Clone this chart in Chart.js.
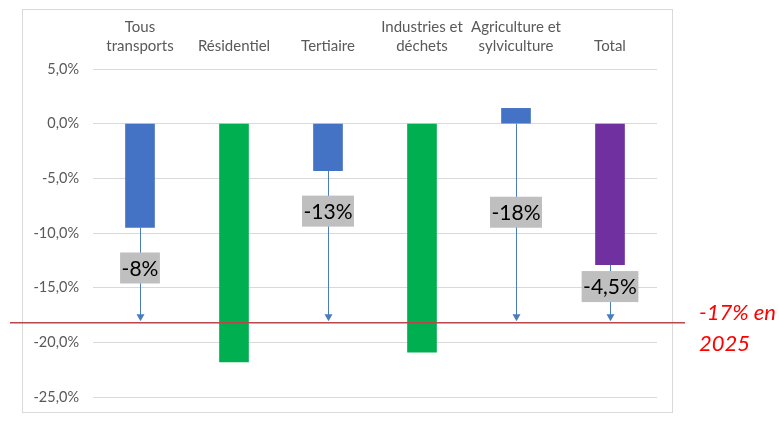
<!DOCTYPE html>
<html lang="fr">
<head>
<meta charset="utf-8">
<script src="https://cdn.jsdelivr.net/npm/chart.js@4/dist/chart.umd.min.js"></script>
<style>
  html, body { margin: 0; padding: 0; background: #fff; }
  canvas { display: block; }
</style>
</head>
<body>
<canvas id="emissionsChart" width="779" height="428"></canvas>
<script>
// Secteurs et évolution des émissions
const categories = [['Tous', 'transports'], 'Résidentiel', 'Tertiaire', ['Industries et', 'déchets'], ['Agriculture et', 'sylviculture'], 'Total'];
const evolution = [-9.5, -21.8, -4.3, -20.9, 1.4, -12.9];
const barColors = ['#4472c4', '#00b050', '#4472c4', '#00b050', '#4472c4', '#7030a0'];

// Effort restant jusqu'à l'objectif (null = objectif déjà atteint)
const effortLabels = ['-8%', null, '-13%', null, '-18%', '-4,5%'];
const objectif = -18.2;
const objectifLabel = ['-17% en', '2025'];

const yTicks = [5, 0, -5, -10, -15, -20, -25];

// where the grey boxes sit on each arrow (axis units)
const labelPos = [-13.2, null, -8.0, null, -8.1, -14.9];

const overlay = {
  id: 'overlay',
  afterDatasetsDraw(chart) {
    const ctx = chart.ctx;
    const x = chart.scales.x;
    const y = chart.scales.y;
    const yObj = y.getPixelForValue(objectif);

    ctx.save();

    // outer frame
    ctx.strokeStyle = '#d9d9d9';
    ctx.lineWidth = 1;
    ctx.strokeRect(22.5, 9.5, 650, 403);

    // target line
    ctx.strokeStyle = '#b9474a';
    ctx.lineWidth = 1.5;
    ctx.beginPath();
    ctx.moveTo(10, yObj);
    ctx.lineTo(685, yObj);
    ctx.stroke();

    // arrows from the bar end down to the target
    ctx.strokeStyle = '#4a7ebb';
    ctx.fillStyle = '#4a7ebb';
    ctx.lineWidth = 1;
    effortLabels.forEach((lbl, i) => {
      if (lbl === null) return;
      const px = Math.round(x.getPixelForValue(i)) + 0.5;
      const yStart = y.getPixelForValue(Math.min(evolution[i], 0));
      const tip = yObj - 1.5;
      ctx.beginPath();
      ctx.moveTo(px, yStart);
      ctx.lineTo(px, tip - 5);
      ctx.stroke();
      ctx.beginPath();
      ctx.moveTo(px - 4, tip - 7);
      ctx.lineTo(px + 4, tip - 7);
      ctx.lineTo(px, tip);
      ctx.closePath();
      ctx.fill();
    });

    // grey value boxes
    ctx.font = '21px Lato';
    ctx.textAlign = 'center';
    ctx.textBaseline = 'middle';
    effortLabels.forEach((lbl, i) => {
      if (lbl === null) return;
      const px = x.getPixelForValue(i);
      const py = y.getPixelForValue(labelPos[i]);
      const w = ctx.measureText(lbl).width + 3;
      ctx.fillStyle = '#bfbfbf';
      ctx.fillRect(px - w / 2, py - 15.5, w, 31);
      ctx.fillStyle = '#000';
      ctx.fillText(lbl, px, py + 1);
    });

    // target caption
    ctx.fillStyle = '#ff0000';
    ctx.font = 'italic 22px Lato';
    ctx.textAlign = 'left';
    ctx.fillText(objectifLabel[0], 699, yObj - 10);
    ctx.fillText(objectifLabel[1], 699, yObj + 21);

    ctx.restore();
  }
};

const emissionsChartCtx = document.getElementById('emissionsChart').getContext('2d');
new Chart(emissionsChartCtx, {
  type: 'bar',
  data: {
    labels: categories,
    datasets: [{
      data: evolution.map(v => [0, v]),
      backgroundColor: barColors,
      borderWidth: 0,
      barThickness: 29
    }]
  },
  options: {
    responsive: false,
    animation: false,
    layout: {
      padding: { top: 0, right: 122, bottom: 31, left: 0 }
    },
    plugins: {
      legend: { display: false },
      tooltip: { enabled: false }
    },
    scales: {
      x: {
        position: 'top',
        grid: { display: false },
        border: { display: false },
        ticks: {
          color: '#595959',
          font: { family: 'Lato', size: 15, lineHeight: 1.3 },
          padding: 5,
          maxRotation: 0,
          autoSkip: false
        },
        afterFit(scale) { scale.height = 69; }
      },
      y: {
        min: -25,
        max: 5,
        afterBuildTicks(scale) { scale.ticks = yTicks.map(v => ({ value: v })); },
        ticks: {
          color: '#595959',
          font: { family: 'Lato', size: 14.5 },
          padding: 14,
          callback: v => v.toFixed(1).replace('.', ',') + '%'
        },
        grid: { color: '#d9d9d9', drawTicks: false },
        border: { display: false },
        afterFit(scale) { scale.width = 93; }
      }
    }
  },
  plugins: [overlay]
});
</script>
</body>
</html>
